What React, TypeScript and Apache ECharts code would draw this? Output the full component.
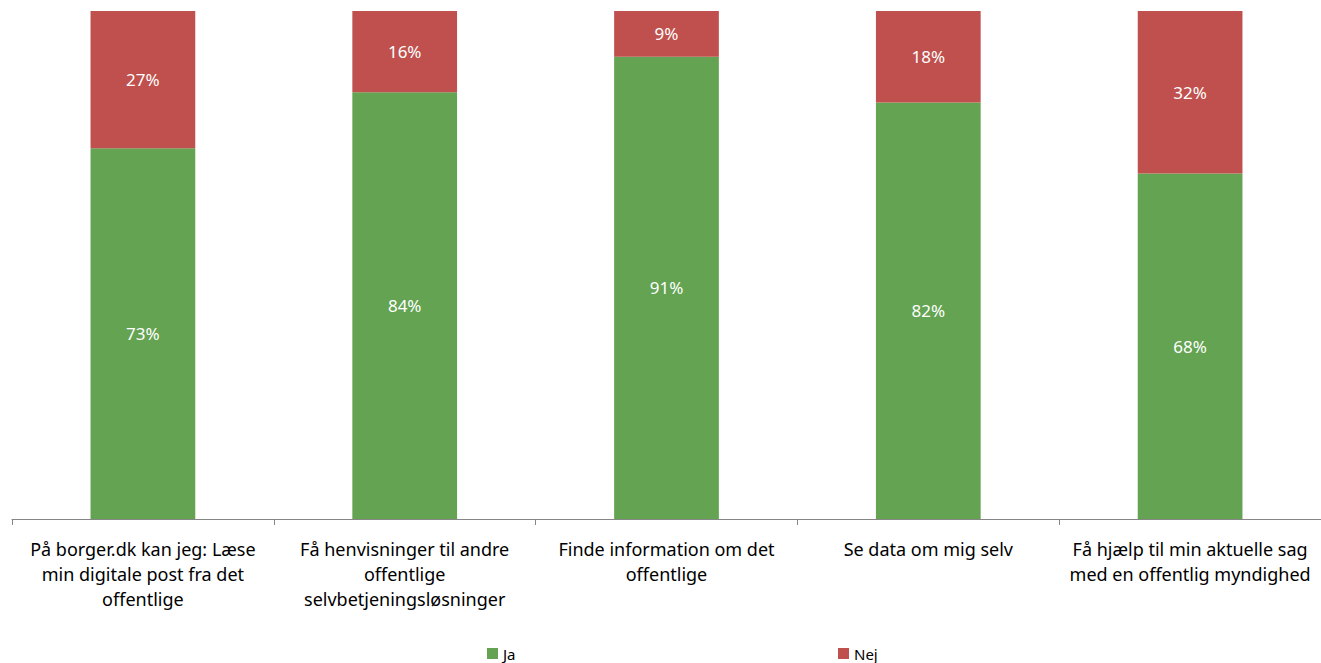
import React, { useEffect, useRef } from "react";
import * as echarts from "echarts";

const categories = [
  "På borger.dk kan jeg: Læse\nmin digitale post fra det\noffentlige",
  "Få henvisninger til andre\noffentlige\nselvbetjeningsløsninger",
  "Finde information om det\noffentlige",
  "Se data om mig selv",
  "Få hjælp til min aktuelle sag\nmed en offentlig myndighed",
];
const jaValues = [73, 84, 91, 82, 68];
const nejValues = [27, 16, 9, 18, 32];

const GREEN = "#63A352";
const RED = "#C0504D";
const FONT = "'Noto Sans', sans-serif";

export default function App() {
  const ref = useRef<HTMLDivElement>(null);
  useEffect(() => {
    if (!ref.current) return;
    const chart = echarts.init(ref.current, undefined, { renderer: "svg" });
    const label = {
      show: true,
      position: "inside" as const,
      color: "#fff",
      fontSize: 17,
      fontFamily: FONT,
      formatter: "{c}%",
    };
    const legendBase = {
      top: 646,
      padding: 0,
      icon: "rect",
      itemWidth: 11,
      itemHeight: 11,
      itemGap: 4,
      textStyle: { fontSize: 15, lineHeight: 15, fontFamily: FONT, color: "#000" },
      selectedMode: false,
    };
    chart.setOption({
      animation: false,
      backgroundColor: "#fff",
      grid: { left: 12, top: 11, width: 1312.5, height: 508, containLabel: false },
      legend: [
        { ...legendBase, data: ["Ja"], left: 487 },
        { ...legendBase, data: ["Nej"], left: 838 },
      ],
      xAxis: {
        type: "category",
        data: categories,
        axisLine: { show: true, lineStyle: { color: "#868686", width: 1 } },
        axisTick: { show: true, length: 6, lineStyle: { color: "#868686" } },
        axisLabel: {
          interval: 0,
          color: "#000",
          fontSize: 18,
          lineHeight: 25,
          fontFamily: FONT,
          margin: 17,
        },
      },
      yAxis: {
        type: "value",
        min: 0,
        max: 100,
        show: false,
        splitLine: { show: false },
      },
      series: [
        {
          name: "Ja",
          type: "bar",
          stack: "total",
          data: jaValues,
          barWidth: "40%",
          itemStyle: { color: GREEN },
          label,
        },
        {
          name: "Nej",
          type: "bar",
          stack: "total",
          data: nejValues,
          barWidth: "40%",
          itemStyle: { color: RED },
          label,
        },
      ],
    });
    return () => chart.dispose();
  }, []);
  return (
    <div
      ref={ref}
      style={{ position: "fixed", left: 0, top: 0, width: 1321, height: 663, background: "#fff" }}
    />
  );
}
